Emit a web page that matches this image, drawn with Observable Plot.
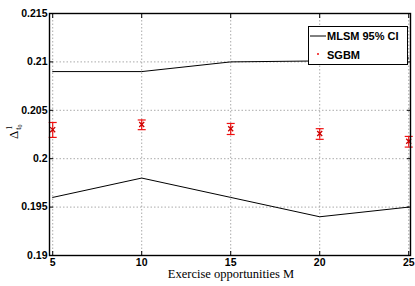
<!DOCTYPE html>
<html><head><meta charset="utf-8">
<script src="https://cdn.jsdelivr.net/npm/d3@7"></script>
<script src="https://cdn.jsdelivr.net/npm/@observablehq/plot@0.6"></script>
<style>body{margin:0;background:#fff}</style>
</head><body><div id="chart"></div>
<script>
const M = [5, 10, 15, 20, 25];
const mlsmUpper = [0.209, 0.209, 0.210, 0.2101, 0.2104];
const mlsmLower = [0.196, 0.198, 0.196, 0.194, 0.195];
const sgbmMean = [0.2030, 0.20353, 0.2031, 0.2026, 0.2018];
const sgbmLow = [0.2022, 0.2030, 0.2025, 0.2020, 0.2012];
const sgbmHigh = [0.20374, 0.2040, 0.20364, 0.2031, 0.2023];
const xTicks = [5, 10, 15, 20, 25];
const yTicks = [0.19, 0.195, 0.2, 0.205, 0.21, 0.215];

const upper = M.map((m, i) => ({m, v: mlsmUpper[i]}));
const lower = M.map((m, i) => ({m, v: mlsmLower[i]}));
const sgbm = M.map((m, i) => ({m, v: sgbmMean[i], lo: sgbmLow[i], hi: sgbmHigh[i]}));

const cap = {draw(ctx) { ctx.moveTo(-4, 0); ctx.lineTo(4, 0); }};
const red = "#f01010";

const plot = Plot.plot({
  width: 415, height: 286,
  marginLeft: 49, marginRight: 5, marginTop: 13, marginBottom: 31,
  style: {fontFamily: "'Liberation Sans', Arial, sans-serif", fontSize: "10.5px", fontWeight: "bold", color: "#000", background: "#fff"},
  x: {domain: [4.82, 25.1]},
  y: {domain: [0.19, 0.215]},
  marks: [
    Plot.gridX(xTicks, {stroke: "#aaa", strokeOpacity: 1, strokeDasharray: "1.5,2"}),
    Plot.gridY(yTicks, {stroke: "#aaa", strokeOpacity: 1, strokeDasharray: "1.5,2"}),
    Plot.line(upper, {x: "m", y: "v", stroke: "#000", strokeWidth: 1}),
    Plot.line(lower, {x: "m", y: "v", stroke: "#000", strokeWidth: 1}),
    Plot.ruleX(sgbm, {x: "m", y1: "lo", y2: "hi", stroke: red, strokeWidth: 1.2}),
    Plot.dot(sgbm, {x: "m", y: "lo", symbol: cap, stroke: red, strokeWidth: 1.2}),
    Plot.dot(sgbm, {x: "m", y: "hi", symbol: cap, stroke: red, strokeWidth: 1.2}),
    Plot.dot(sgbm, {x: "m", y: "v", symbol: "times", r: 2.4, stroke: "#c00", strokeWidth: 1.3}),
    Plot.axisX(xTicks, {anchor: "bottom", tickSize: -4, tickPadding: 7, label: null, tickFormat: d => String(d)}),
    Plot.axisX(xTicks, {anchor: "top", tickSize: -4, tickFormat: () => "", label: null}),
    Plot.axisY(yTicks, {anchor: "left", tickSize: -4, tickPadding: 6, label: null, tickFormat: d => String(d)}),
    Plot.axisY(yTicks, {anchor: "right", tickSize: -4, tickFormat: () => "", label: null}),
    Plot.frame({stroke: "#000", strokeWidth: 1.4})
  ]
});

const svg = d3.select(plot);
// x label
svg.append("text")
  .attr("x", 231).attr("y", 278)
  .attr("text-anchor", "middle")
  .attr("font-family", "'Liberation Serif', 'Times New Roman', serif")
  .attr("font-size", 12.5).attr("font-weight", "normal")
  .attr("fill", "#000")
  .text("Exercise opportunities M");
// y label
const yl = svg.append("text")
  .attr("transform", "translate(18,139) rotate(-90)")
  .attr("text-anchor", "start")
  .attr("font-family", "'Liberation Serif', 'Times New Roman', serif")
  .attr("font-size", 13).attr("font-weight", "normal")
  .attr("fill", "#000");
yl.append("tspan").text("Δ");
yl.append("tspan").attr("font-size", 8).attr("dx", 1).attr("dy", -6).text("1");
yl.append("tspan").attr("font-size", 8).attr("dx", -4).attr("dy", 9).text("t");
yl.append("tspan").attr("font-size", 6).attr("dy", 1).text("0");

// legend
const lg = svg.append("g").attr("text-anchor", "start");
lg.append("rect").attr("x", 308.5).attr("y", 26.5).attr("width", 99).attr("height", 38)
  .attr("fill", "#fff").attr("stroke", "#000").attr("stroke-width", 1);
lg.append("line").attr("x1", 310).attr("x2", 326).attr("y1", 36).attr("y2", 36)
  .attr("stroke", "#000").attr("stroke-width", 1);
lg.append("circle").attr("cx", 318).attr("cy", 54).attr("r", 1).attr("fill", red);
lg.append("text").attr("x", 327).attr("y", 40).attr("font-size", 11).attr("font-weight", "bold")
  .attr("text-anchor", "start")
  .attr("font-family", "'Liberation Sans', Arial, sans-serif").text("MLSM 95% CI");
lg.append("text").attr("x", 327).attr("y", 59).attr("font-size", 11).attr("font-weight", "bold")
  .attr("text-anchor", "start")
  .attr("font-family", "'Liberation Sans', Arial, sans-serif").text("SGBM");

document.getElementById("chart").appendChild(plot);
</script>
</body></html>
